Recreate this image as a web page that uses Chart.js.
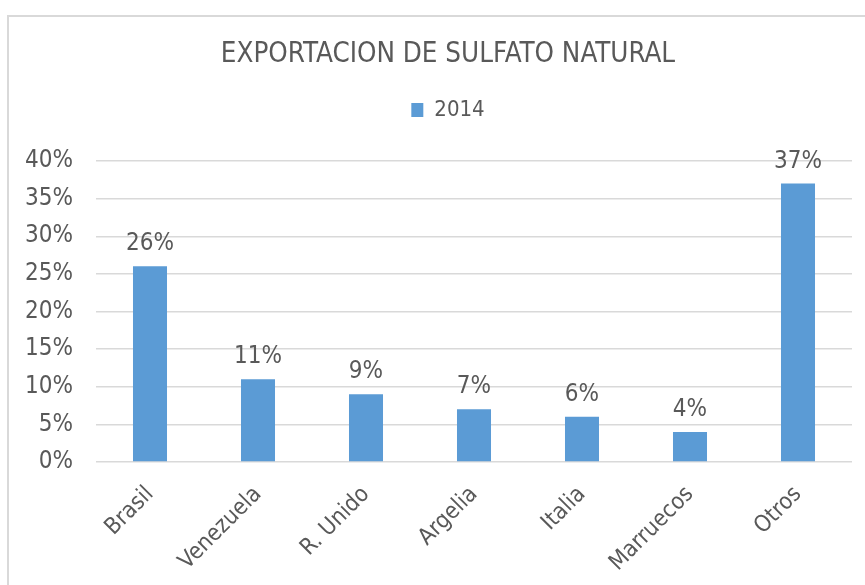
<!DOCTYPE html>
<html>
<head>
<meta charset="utf-8">
<script src="https://cdn.jsdelivr.net/npm/chart.js@4.4.1/dist/chart.umd.min.js"></script>
<style>
html,body{margin:0;padding:0;background:#fff;overflow:hidden}
#wrap{position:relative;width:865px;height:585px;overflow:hidden}
#frame{position:absolute;left:7px;top:15px;width:900px;height:600px;border:2px solid #d9d9d9;box-sizing:border-box}
#chart{position:absolute;left:0;top:0}
</style>
</head>
<body>
<div id="wrap"><div id="frame"></div><canvas id="chart" width="896" height="585"></canvas></div>
<script>
// ── data ──
const paises=['Brasil','Venezuela','R. Unido','Argelia','Italia','Marruecos','Otros'];
const valores=[26,11,9,7,6,4,37];
const serie='2014';
const titulo='EXPORTACION DE SULFATO NATURAL';

const FONT="'DejaVu Sans Condensed','DejaVu Sans',sans-serif";
const TXT='#595959', GRID='#d9d9d9', BAR='#5b9bd5';

// etiquetas encima de cada barra
const barLabels={id:'barLabels',afterDatasetsDraw(ch){
  const c=ch.ctx, meta=ch.getDatasetMeta(0);
  c.save();c.font='24px '+FONT;c.fillStyle=TXT;c.textAlign='center';c.textBaseline='alphabetic';
  meta.data.forEach((b,i)=>c.fillText(valores[i]+'%',b.x,b.y-16));
  c.restore();
}};

new Chart(document.getElementById('chart'),{
  type:'bar',
  data:{labels:paises,datasets:[{label:serie,data:valores,backgroundColor:BAR,borderWidth:0,categoryPercentage:1,barPercentage:0.315}]},
  options:{
    responsive:false,animation:false,
    layout:{padding:0},
    plugins:{
      title:{display:true,text:titulo,color:TXT,font:{family:FONT,size:27.5,weight:'normal'},padding:{top:38,bottom:18}},
      // espacio vacío entre leyenda y gráfico
      subtitle:{display:true,text:'',weight:500,font:{size:25},padding:0},
      legend:{display:true,labels:{color:TXT,font:{family:FONT,size:22},boxWidth:12,boxHeight:14,padding:10}},
      tooltip:{enabled:false}
    },
    scales:{
      x:{grid:{display:false},border:{display:false},
        ticks:{color:TXT,font:{family:FONT,size:23},maxRotation:45,minRotation:45,padding:11},
        afterFit:s=>{s.height=123;}},
      y:{min:0,max:40,border:{display:false},
        grid:{color:GRID,lineWidth:1.5,drawTicks:false},
        ticks:{stepSize:5,color:TXT,font:{family:FONT,size:24},padding:23,callback:v=>v+'%'},
        afterFit:s=>{s.width=96;}},
      // eje vacío a la derecha, sólo para centrar título y leyenda como en el original
      y2:{position:'right',display:true,grid:{display:false},border:{display:false},ticks:{display:false},
        afterFit:s=>{s.width=44;}}
    }
  },
  plugins:[barLabels]
});
</script>
</body>
</html>
